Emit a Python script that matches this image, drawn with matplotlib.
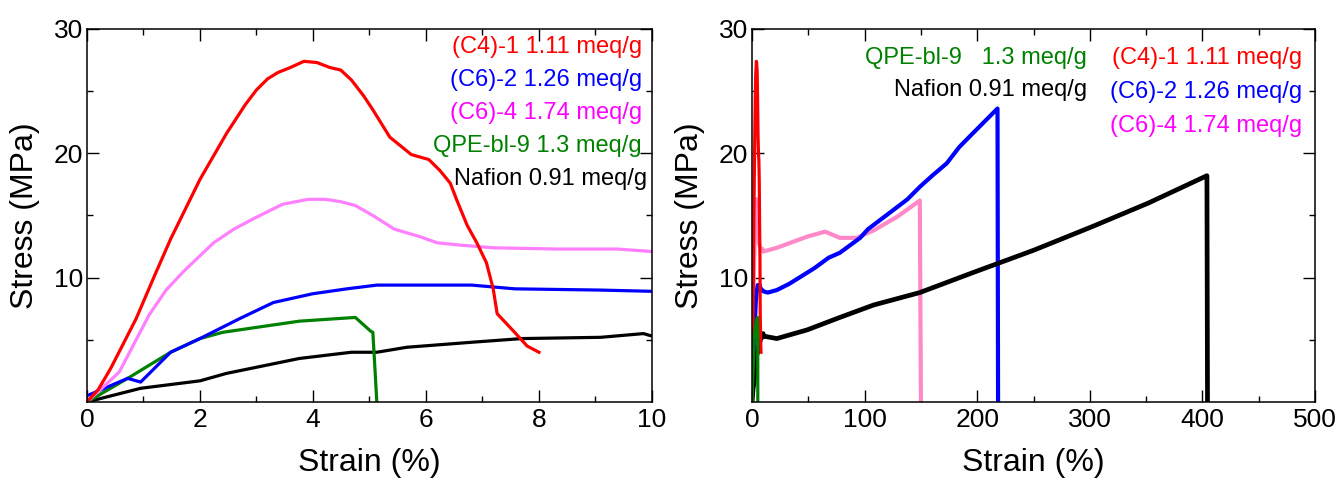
import matplotlib
matplotlib.use("Agg")
import matplotlib.pyplot as plt
from matplotlib.ticker import MultipleLocator

plt.rcParams['font.family'] = ['Liberation Sans', 'DejaVu Sans']

# stress-strain curves, strain in %, stress in MPa
c41_strain = [0, 0.2, 0.42, 0.87, 1.2, 1.48, 2.0, 2.47, 2.8, 3.0, 3.2, 3.38, 3.6, 3.84, 4.07, 4.3,
              4.49, 4.68, 4.9, 5.06, 5.36, 5.74, 6.05, 6.25, 6.43, 6.54, 6.73, 6.9, 7.07, 7.19,
              7.26, 7.57, 7.79, 8.0]
c41_stress = [0, 1.0, 2.7, 6.7, 10.2, 13.1, 17.9, 21.6, 23.9, 25.1, 26.0, 26.5, 26.9, 27.4, 27.3,
              26.9, 26.7, 25.9, 24.6, 23.5, 21.3, 19.9, 19.5, 18.6, 17.6, 16.3, 14.2, 12.8, 11.2,
              9.1, 7.1, 5.6, 4.5, 4.0]

c62_strain = [0, 0.72, 0.95, 1.48, 2.0, 2.7, 3.3, 3.99, 4.6, 5.13, 6.05, 6.81, 7.57, 9.09, 10,
              14, 22, 33, 49, 56, 68, 78, 96, 103, 122, 138, 149, 160, 173, 184, 196, 207, 218, 218.5]
c62_stress = [0.5, 1.9, 1.6, 4.0, 5.1, 6.7, 8.0, 8.7, 9.1, 9.4, 9.4, 9.4, 9.1, 9.0, 8.9,
              8.8, 9.0, 9.5, 10.4, 10.8, 11.6, 12.0, 13.2, 13.9, 15.2, 16.3, 17.3, 18.2, 19.2,
              20.5, 21.6, 22.6, 23.6, 0]

c64_strain = [0, 0.57, 1.1, 1.4, 1.71, 2.24, 2.6, 2.93, 3.46, 3.92, 4.22, 4.5, 4.75, 5.06, 5.44,
              5.89, 6.2, 6.65, 7.19, 8.33, 9.39, 10, 22, 34, 49, 65, 78, 93, 108, 129, 149, 150]
c64_stress = [0, 2.4, 7.0, 9.0, 10.5, 12.8, 13.9, 14.7, 15.9, 16.3, 16.3, 16.1, 15.8, 15.0, 13.9,
              13.3, 12.8, 12.6, 12.4, 12.3, 12.3, 12.1, 12.4, 12.8, 13.3, 13.7, 13.2, 13.2, 13.8,
              14.9, 16.2, 0]

qpe_strain = [0, 0.72, 1.48, 2.0, 2.4, 3.0, 3.76, 4.75, 5.02, 5.06, 5.13]
qpe_stress = [0, 1.9, 4.0, 5.1, 5.6, 6.0, 6.5, 6.8, 5.7, 5.6, 0]

naf_strain = [0, 0.95, 2.0, 2.47, 3.76, 4.68, 5.13, 5.66, 6.8, 7.7, 9.09, 9.85, 10,
              22, 49, 78, 108, 149, 196, 250, 302, 352, 404, 404.5]
naf_stress = [0, 1.1, 1.7, 2.3, 3.5, 4.0, 4.0, 4.4, 4.8, 5.1, 5.2, 5.5, 5.3,
              5.1, 5.8, 6.8, 7.8, 8.8, 10.4, 12.2, 14.1, 16.0, 18.2, 0]

labels = ['(C4)-1 1.11 meq/g', '(C6)-2 1.26 meq/g', '(C6)-4 1.74 meq/g',
          'QPE-bl-9 1.3 meq/g', 'Nafion 0.91 meq/g']

fig = plt.figure(figsize=(13.36, 4.79), dpi=100)
ax1 = fig.add_axes([0.0651, 0.1608, 0.4229, 0.7787])
ax2 = fig.add_axes([0.5629, 0.1608, 0.4214, 0.7787])

# left panel, first 10 %
ax1.plot(naf_strain, naf_stress, color='black', lw=2.3)
ax1.plot(qpe_strain, qpe_stress, color='green', lw=2.3)
ax1.plot(c62_strain, c62_stress, color='blue', lw=2.3)
ax1.plot(c64_strain, c64_stress, color='#ff80ff', lw=2.3)
ax1.plot(c41_strain, c41_stress, color='red', lw=2.3)
ax1.set_xlim(0, 10)
ax1.xaxis.set_major_locator(MultipleLocator(2))
ax1.xaxis.set_minor_locator(MultipleLocator(1))

# right panel, full range
ax2.plot(c64_strain, c64_stress, color='#ff88c8', lw=3.0)
ax2.plot(c62_strain, c62_stress, color='blue', lw=3.0)
ax2.plot(naf_strain, naf_stress, color='black', lw=3.4)
ax2.plot(c41_strain, c41_stress, color='red', lw=2.3)
ax2.plot(qpe_strain, qpe_stress, color='green', lw=2.3)
ax2.set_xlim(0, 500)
ax2.xaxis.set_major_locator(MultipleLocator(100))
ax2.xaxis.set_minor_locator(MultipleLocator(50))

for ax in (ax1, ax2):
    ax.set_ylim(0, 30)
    ax.set_yticks([10, 20, 30])
    ax.set_yticks([5, 15, 25], minor=True)
    ax.tick_params(which='both', direction='in', top=True, right=True, width=1)
    ax.tick_params(which='major', length=8.5, labelsize=19)
    ax.tick_params(which='minor', length=4.3)
    ax.tick_params(axis='x', pad=4)
    ax.tick_params(axis='y', pad=3)
    for s in ax.spines.values():
        s.set_linewidth(1.1)
    ax.set_xlabel('Strain (%)', fontsize=23, labelpad=12)
    ax.set_ylabel('Stress (MPa)', fontsize=23, labelpad=10)

cols1 = ['red', 'blue', '#ff00ff', 'green', 'black']
for i, (t, c) in enumerate(zip(labels, cols1)):
    xr = 0.991 if i == 4 else 0.982
    ax1.text(xr, 0.952 - i * 0.0885, t, color=c, fontsize=17, ha='right', va='center',
             transform=ax1.transAxes)

ax2.text(0.595, 0.922, 'QPE-bl-9   1.3 meq/g', color='green', fontsize=17, ha='right',
         va='center', transform=ax2.transAxes)
ax2.text(0.595, 0.836, labels[4], color='black', fontsize=17, ha='right', va='center',
         transform=ax2.transAxes)
for i, (t, c) in enumerate(zip(labels[:3], ['red', 'blue', '#ff00ff'])):
    ax2.text(0.977, 0.922 - i * 0.091, t, color=c, fontsize=17, ha='right', va='center',
             transform=ax2.transAxes)

fig.savefig('out.png', dpi=100)
